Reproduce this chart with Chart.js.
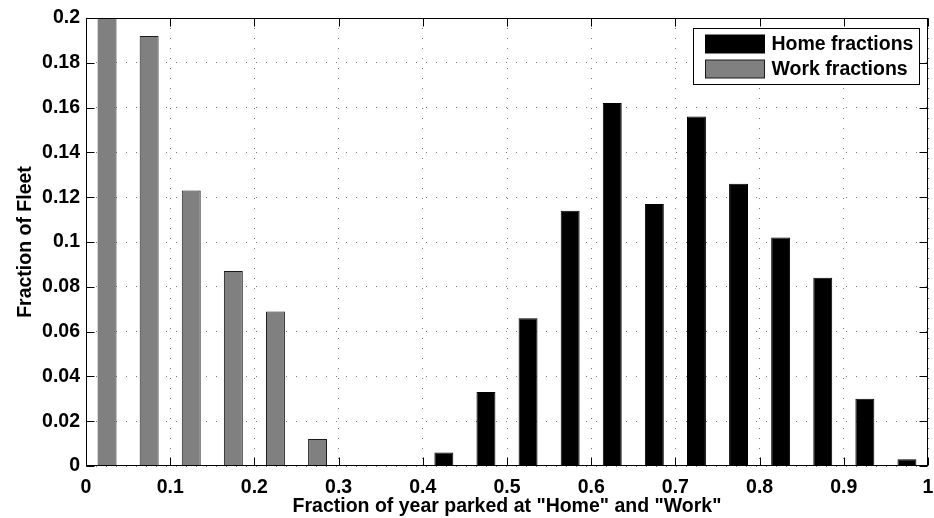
<!DOCTYPE html>
<html>
<head>
<meta charset="utf-8">
<script src="https://cdn.jsdelivr.net/npm/chart.js@4/dist/chart.umd.min.js"></script>
<style>
html,body{margin:0;padding:0;background:#fff;}
#wrap{width:934px;height:518px;}
</style>
</head>
<body>
<div id="wrap"><canvas id="c" width="934" height="518"></canvas></div>
<script>
// ---- data ----
const binCenters = [0.025,0.075,0.125,0.175,0.225,0.275,0.325,0.375,0.425,0.475,0.525,0.575,0.625,0.675,0.725,0.775,0.825,0.875,0.925,0.975];
const homeFractions = [0,0,0,0,0,0,0,0,0.006,0.033,0.066,0.114,0.162,0.117,0.156,0.126,0.102,0.084,0.030,0.003];
const workFractions = [0.200,0.192,0.123,0.087,0.069,0.012,0,0,0,0,0,0,0,0,0,0,0,0,0,0];
const seriesLabels = ['Home fractions','Work fractions'];
const xTickValues = [0,0.1,0.2,0.3,0.4,0.5,0.6,0.7,0.8,0.9,1];
const xTickLabels = ['0','0.1','0.2','0.3','0.4','0.5','0.6','0.7','0.8','0.9','1'];
const yTickValues = [0,0.02,0.04,0.06,0.08,0.1,0.12,0.14,0.16,0.18,0.2];
const yTickLabels = ['0','0.02','0.04','0.06','0.08','0.1','0.12','0.14','0.16','0.18','0.2'];
const xTitle = 'Fraction of year parked at "Home" and "Work"';
const yTitle = 'Fraction of Fleet';

const FONT = '"Liberation Sans", Arial, Helvetica, sans-serif';
const FSIZE = 19.5;
const toPoints = vals => binCenters.map((x,i)=>({x:x, y:vals[i]})).filter(p=>p.y>0);

const frameAndLegend = {
  id:'frameAndLegend',
  afterDatasetsDraw(chart){
    const ctx = chart.ctx, a = chart.chartArea;
    const xs = chart.scales.x, ys = chart.scales.y;
    const L = Math.round(a.left)+0.5, R = Math.round(a.right)-0.5, T = Math.round(a.top)+0.5, B = Math.round(a.bottom)-0.5;
    ctx.save();
    ctx.strokeStyle = '#000'; ctx.lineWidth = 1; ctx.setLineDash([]);
    ctx.strokeRect(L, T, R-L, B-T);
    const tl = 8;
    ctx.beginPath();
    xTickValues.forEach(v=>{
      const px = Math.round(xs.getPixelForValue(v))+0.5;
      ctx.moveTo(px,B); ctx.lineTo(px,B-tl);
      ctx.moveTo(px,T); ctx.lineTo(px,T+tl);
    });
    yTickValues.forEach(v=>{
      const py = Math.round(ys.getPixelForValue(v))+0.5;
      ctx.moveTo(L,py); ctx.lineTo(L+tl,py);
      ctx.moveTo(R,py); ctx.lineTo(R-tl,py);
    });
    ctx.stroke();
    ctx.restore();
  },
  afterDraw(chart){
    const ctx = chart.ctx, a = chart.chartArea;
    const bx = Math.round(a.right - 235)+0.5, by = Math.round(a.top + 10)+0.5;
    const bw = 226, bh = 56;
    ctx.save();
    ctx.fillStyle = '#fff';
    ctx.fillRect(bx, by, bw, bh);
    ctx.strokeStyle = '#000'; ctx.lineWidth = 1;
    ctx.strokeRect(bx, by, bw, bh);
    ctx.font = 'bold ' + FSIZE + 'px ' + FONT;
    ctx.textBaseline = 'middle'; ctx.textAlign = 'left';
    chart.data.datasets.forEach((ds,i)=>{
      const cy = by + 15.5 + i*25;
      ctx.fillStyle = ds.backgroundColor;
      ctx.fillRect(bx+12, cy-9, 59, 18);
      ctx.strokeStyle = ds.borderColor;
      ctx.strokeRect(bx+12, cy-9, 59, 18);
      ctx.fillStyle = '#000';
      ctx.fillText(ds.label, bx+78, cy+1);
    });
    ctx.restore();
  }
};

new Chart(document.getElementById('c'), {
  type:'bar',
  data:{
    datasets:[
      {label:seriesLabels[0], data:toPoints(homeFractions), backgroundColor:'#000000', borderColor:'#000000', borderWidth:1, grouped:false, barPercentage:0.45, categoryPercentage:1},
      {label:seriesLabels[1], data:toPoints(workFractions), backgroundColor:'#808080', borderColor:'#1a1a1a', borderWidth:1, grouped:false, barPercentage:0.45, categoryPercentage:1}
    ]
  },
  options:{
    responsive:false, animation:false, devicePixelRatio:1,
    layout:{padding:{top:18,right:6,left:0,bottom:0}},
    plugins:{legend:{display:false}, tooltip:{enabled:false}},
    scales:{
      x:{
        type:'linear', min:0, max:1, offset:false,
        grid:{offset:false, color:'#777', lineWidth:1, drawTicks:false},
        border:{display:false, dash:[1,9]},
        afterBuildTicks:s=>{s.ticks = xTickValues.map(v=>({value:v}));},
        ticks:{callback:(v,i)=>xTickLabels[i], padding:10, color:'#000', maxRotation:0, autoSkip:false, font:{family:FONT, size:FSIZE, weight:'bold'}},
        title:{display:true, text:xTitle, color:'#000', padding:{top:0,bottom:0}, font:{family:FONT, size:FSIZE, weight:'bold'}},
        afterFit:s=>{s.height = 52; s.paddingLeft = 0; s.paddingRight = 0;}
      },
      y:{
        type:'linear', min:0, max:0.2,
        grid:{color:'#777', lineWidth:1, drawTicks:false},
        border:{display:false, dash:[1,9]},
        afterBuildTicks:s=>{s.ticks = yTickValues.map(v=>({value:v}));},
        ticks:{callback:(v,i)=>yTickLabels[i], padding:6, color:'#000', autoSkip:false, font:{family:FONT, size:FSIZE, weight:'bold'}},
        title:{display:true, text:yTitle, color:'#000', padding:{top:14,bottom:0}, font:{family:FONT, size:FSIZE, weight:'bold'}},
        afterFit:s=>{s.width = 86; s.paddingTop = 0; s.paddingBottom = 0;}
      }
    }
  },
  plugins:[frameAndLegend]
});
</script>
</body>
</html>
